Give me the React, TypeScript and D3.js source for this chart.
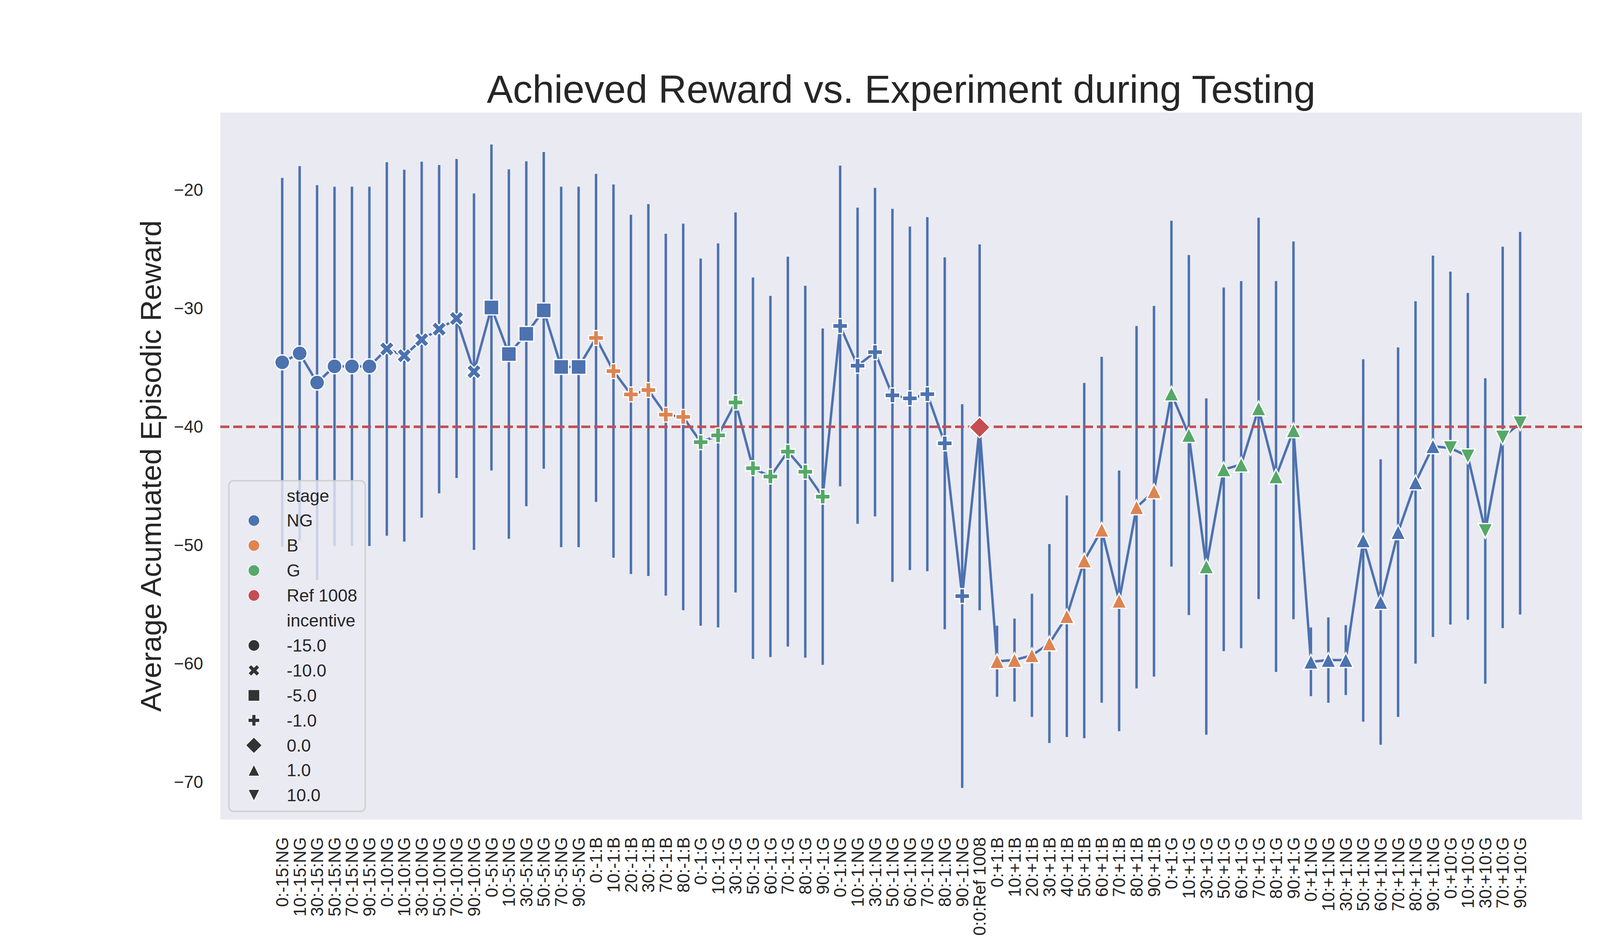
import React from 'react';
import * as d3 from 'd3';

const labels: string[] = [
  '0:-15:NG', '10:-15:NG', '30:-15:NG', '50:-15:NG', '70:-15:NG', '90:-15:NG',
  '0:-10:NG', '10:-10:NG', '30:-10:NG', '50:-10:NG', '70:-10:NG', '90:-10:NG',
  '0:-5:NG', '10:-5:NG', '30:-5:NG', '50:-5:NG', '70:-5:NG', '90:-5:NG',
  '0:-1:B', '10:-1:B', '20:-1:B', '30:-1:B', '70:-1:B', '80:-1:B',
  '0:-1:G', '10:-1:G', '30:-1:G', '50:-1:G', '60:-1:G', '70:-1:G', '80:-1:G', '90:-1:G',
  '0:-1:NG', '10:-1:NG', '30:-1:NG', '50:-1:NG', '60:-1:NG', '70:-1:NG', '80:-1:NG', '90:-1:NG',
  '0:0:Ref 1008',
  '0:+1:B', '10:+1:B', '20:+1:B', '30:+1:B', '40:+1:B', '50:+1:B', '60:+1:B', '70:+1:B', '80:+1:B', '90:+1:B',
  '0:+1:G', '10:+1:G', '30:+1:G', '50:+1:G', '60:+1:G', '70:+1:G', '80:+1:G', '90:+1:G',
  '0:+1:NG', '10:+1:NG', '30:+1:NG', '50:+1:NG', '60:+1:NG', '70:+1:NG', '80:+1:NG', '90:+1:NG',
  '0:+10:G', '10:+10:G', '30:+10:G', '70:+10:G', '90:+10:G',
];

const means: number[] = [
  -34.56, -33.8, -36.27, -34.9, -34.9, -34.9,
  -33.43, -34.0, -32.65, -31.76, -30.86, -35.35,
  -29.93, -33.86, -32.15, -30.17, -34.95, -34.95,
  -32.5, -35.3, -37.27, -36.9, -38.98, -39.17,
  -41.3, -40.73, -37.95, -43.5, -44.2, -42.1, -43.8, -45.9,
  -31.49, -34.85, -33.7, -37.35, -37.6, -37.25, -41.4, -54.3,
  -40.05,
  -59.8, -59.7, -59.3, -58.3, -56.0, -51.3, -48.7, -54.7, -46.8, -45.45,
  -37.2, -40.7, -51.8, -43.6, -43.2, -38.45, -44.2, -40.3,
  -59.85, -59.7, -59.7, -49.6, -54.8, -48.9, -44.7, -41.65,
  -41.8, -42.5, -48.8, -40.9, -39.7,
];

const sds: number[] = [
  15.57, 15.81, 16.67, 15.17, 15.17, 15.17,
  15.77, 15.7, 15.03, 13.86, 13.47, 15.05,
  13.76, 15.6, 14.56, 13.37, 15.22, 15.22,
  13.85, 15.76, 15.17, 15.7, 15.28, 16.32,
  15.5, 16.21, 16.05, 16.1, 15.25, 16.46, 15.7, 14.2,
  13.54, 13.35, 13.87, 15.75, 14.5, 14.95, 15.7, 16.2,
  15.45,
  3.0, 3.5, 5.2, 8.4, 10.2, 15.0, 14.6, 11.0, 15.3, 15.65,
  14.6, 15.2, 14.2, 15.35, 15.5, 16.1, 16.5, 15.95,
  2.9, 3.6, 2.95, 15.3, 12.05, 15.6, 15.3, 16.1,
  14.9, 13.8, 12.9, 16.1, 16.15,
];

const stages: string[] = labels.map((l) => l.split(':')[2]);
const incentives: number[] = labels.map((l) => parseFloat(l.split(':')[1]));

const stageNames = ['NG', 'B', 'G', 'Ref 1008'];
const stageColors = ['#4C72B0', '#DD8452', '#55A868', '#C44E52'];
const incentiveLevels = [-15, -10, -5, -1, 0, 1, 10];
const incentiveMarkers = ['circle', 'x', 'square', 'plus', 'diamond', 'tri-up', 'tri-down'];
const yTicks = [-70, -60, -50, -40, -30, -20];
const refValue = -40;

const W = 4500, H = 2400;
const L = 564, R = 4050, T = 288, B = 2097;
const FONT = "'Liberation Sans', Arial, sans-serif";
const TXT = '#262626';
const TICK_FS = 44;

function poly(pts: number[][], s: number): string {
  return 'M' + pts.map(([a, b]) => `${(a * s).toFixed(2)},${(b * s).toFixed(2)}`).join('L') + 'Z';
}

function markerPath(kind: string, s: number): string {
  switch (kind) {
    case 'circle': {
      const r = s / 2;
      return `M${-r},0A${r},${r} 0 1,0 ${r},0A${r},${r} 0 1,0 ${-r},0Z`;
    }
    case 'x':
      return poly([[-1, -2], [0, -1], [1, -2], [2, -1], [1, 0], [2, 1], [1, 2], [0, 1], [-1, 2], [-2, 1], [-1, 0], [-2, -1]].map(([a, b]) => [a / 4, b / 4]), s);
    case 'square':
      return poly([[-0.5, -0.5], [0.5, -0.5], [0.5, 0.5], [-0.5, 0.5]], s);
    case 'plus':
      return poly([[-1, -3], [1, -3], [1, -1], [3, -1], [3, 1], [1, 1], [1, 3], [-1, 3], [-1, 1], [-3, 1], [-3, -1], [-1, -1]].map(([a, b]) => [a / 6, b / 6]), s);
    case 'diamond': {
      const d = Math.SQRT1_2;
      return poly([[0, -d], [d, 0], [0, d], [-d, 0]], s);
    }
    case 'tri-up':
      return poly([[0, -0.5], [0.5, 0.5], [-0.5, 0.5]], s);
    case 'tri-down':
      return poly([[0, 0.5], [0.5, -0.5], [-0.5, -0.5]], s);
  }
  return '';
}

export default function App() {
  const x = d3.scalePoint<string>().domain(labels).range([L, R]).padding(3.55);
  const y = d3.scaleLinear().domain([-73.17, -13.47]).range([B, T]);
  const px = (i: number) => x(labels[i]) as number;
  const linePath = d3.line<number>().x((_, i) => px(i)).y((d) => y(d))(means) || '';

  const mSize = 38;
  const legX = 586, legY = 1230, legW = 349, legH = 846;
  const rowY0 = 1268, rowDy = 63.9;
  const legMarkerX = 650, legTextX = 734;

  const legendRows: { text: string; kind?: string; color?: string }[] = [
    { text: 'stage' },
    ...stageNames.map((s, i) => ({ text: s, kind: 'circle', color: stageColors[i] })),
    { text: 'incentive' },
    ...incentiveLevels.map((v, i) => ({ text: v.toFixed(1), kind: incentiveMarkers[i], color: '#333333' })),
  ];

  return (
    <svg width={W} height={H} style={{ position: 'absolute', left: 0, top: 0, background: '#ffffff' }} fontFamily={FONT}>
      <defs>
        <clipPath id="plotclip">
          <rect x={L} y={T} width={R - L} height={B - T} />
        </clipPath>
      </defs>
      <rect x={0} y={0} width={W} height={H} fill="#ffffff" />
      <rect x={L} y={T} width={R - L} height={B - T} fill="#EAEAF2" />
      <g clipPath="url(#plotclip)">
        {means.map((m, i) => (
          <line key={'e' + i} x1={px(i)} x2={px(i)} y1={y(m - sds[i])} y2={y(m + sds[i])} stroke="#4C72B0" strokeWidth={6.25} />
        ))}
        <path d={linePath} fill="none" stroke="#4C72B0" strokeWidth={6.25} strokeLinejoin="round" strokeLinecap="round" />
        <line x1={L} x2={R} y1={y(refValue)} y2={y(refValue)} stroke="#C44E52" strokeWidth={6.5} strokeDasharray="23,10" />
        {means.map((m, i) => {
          const ci = stageNames.indexOf(stages[i]);
          const color = stageColors[ci >= 0 ? ci : 3];
          const kind = incentiveMarkers[incentiveLevels.indexOf(incentives[i])];
          return (
            <path key={'m' + i} d={markerPath(kind, mSize)} transform={`translate(${px(i)},${y(m)})`} fill={color} stroke="#ffffff" strokeWidth={3.2} strokeLinejoin="miter" />
          );
        })}
      </g>

      {yTicks.map((t) => (
        <text key={'yt' + t} x={520} y={y(t)} textAnchor="end" dominantBaseline="central" fontSize={TICK_FS} fill={TXT}>
          {'\u2212' + Math.abs(t)}
        </text>
      ))}
      {labels.map((l, i) => (
        <text key={'xt' + i} transform={`translate(${px(i)},2142) rotate(-90)`} textAnchor="end" dominantBaseline="central" fontSize={TICK_FS} fill={TXT}>
          {l}
        </text>
      ))}

      <text x={(L + R) / 2} y={263} textAnchor="middle" fontSize={100} fill={TXT}>
        Achieved Reward vs. Experiment during Testing
      </text>
      <text transform={`translate(412,${(T + B) / 2}) rotate(-90)`} textAnchor="middle" fontSize={75} fill={TXT}>
        Average Acumuated Episodic Reward
      </text>

      <rect x={legX} y={legY} width={legW} height={legH} rx={12} ry={12} fill="#EAEAF2" fillOpacity={0.8} stroke="#cccccc" strokeOpacity={0.8} strokeWidth={4} />
      {legendRows.map((r, k) => {
        const yy = rowY0 + k * rowDy;
        return (
          <g key={'lg' + k}>
            {r.kind && (
              <path d={markerPath(r.kind, 29)} transform={`translate(${legMarkerX},${yy})`} fill={r.color} stroke="#ffffff" strokeWidth={1.5} />
            )}
            <text x={legTextX} y={yy} dominantBaseline="central" fontSize={44.5} fill={TXT}>
              {r.text}
            </text>
          </g>
        );
      })}
    </svg>
  );
}
